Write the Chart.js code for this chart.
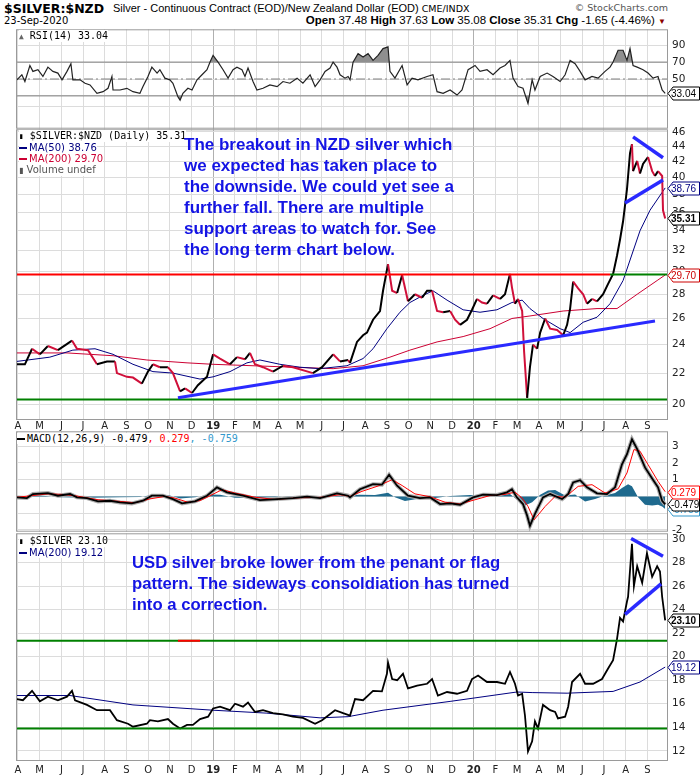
<!doctype html>
<html>
<head>
<meta charset="utf-8">
<title>$SILVER:$NZD</title>
<script src="https://cdn.jsdelivr.net/npm/chart.js@4.4.1/dist/chart.umd.min.js"></script>
<style>
  body { margin: 0; background: #fff; }
  #page { position: relative; width: 700px; height: 780px; overflow: hidden; font-family: "Liberation Sans", Arial, sans-serif; color: #000; }
  #page canvas { position: absolute; left: 0; }
  .abs { position: absolute; white-space: nowrap; }
  .note { position: absolute; white-space: nowrap; color: #1414e4; font-weight: bold; }
  .leg { position: absolute; font-family: "DejaVu Sans", sans-serif; font-size: 10px; line-height: 11px; }
  .leg div { background: #fff; width: max-content; }
  .mono { font-family: "DejaVu Sans Mono", monospace; }
  .dash { display: inline-block; width: 8px; height: 2px; vertical-align: middle; margin-right: 2px; }
</style>
</head>
<body>
<div id="page">
  <div class="abs" style="left:4px;top:1px;font-family:'DejaVu Sans';font-weight:bold;font-size:12.5px">$SILVER:$NZD</div>
  <div class="abs" style="left:113px;top:2px;font-size:11px">Silver - Continuous Contract (EOD)/New Zealand Dollar (EOD) <span style="font-family:'DejaVu Sans';font-size:9.5px">CME/INDX</span></div>
  <div class="abs" style="right:32px;top:2px;font-family:'DejaVu Sans';font-size:9.5px;color:#555">© StockCharts.com</div>
  <div class="abs" style="left:4px;top:15px;font-family:'DejaVu Sans';font-size:10px">23-Sep-2020</div>
  <div class="abs" style="right:34px;top:14px;font-size:11.5px"><b>Open</b> 37.48 <b>High</b> 37.63 <b>Low</b> 35.08 <b>Close</b> 35.31 <b>Chg</b> -1.65 (-4.46%) <span style="color:#8b0000;font-size:8px">▼</span></div>

  <canvas id="rsi" width="700" height="120" style="top:19px"></canvas>
  <canvas id="main" width="700" height="313" style="top:119px"></canvas>
  <canvas id="macd" width="700" height="121" style="top:421px"></canvas>
  <canvas id="usd" width="700" height="256" style="top:523px"></canvas>

  <div class="leg" style="left:19px;top:30px">
    <div class="mono"><span style="color:#666;font-size:8px">▲</span> RSI(14) 33.04</div>
  </div>
  <div class="leg" style="left:19px;top:130px">
    <div class="mono"><span style="font-size:8px">▮</span> $SILVER:$NZD (Daily) 35.31</div>
    <div style="color:#000080"><span class="dash" style="background:#000080"></span>MA(50) 38.76</div>
    <div style="color:#cc0033"><span class="dash" style="background:#cc0033"></span>MA(200) 29.70</div>
    <div style="color:#555"><span style="font-size:8px">▮</span> Volume undef</div>
  </div>
  <div class="leg" style="left:17px;top:433px">
    <div class="mono"><span class="dash" style="background:#000"></span>MACD(12,26,9) -0.479<span style="color:#ff0000">, 0.279</span><span style="color:#3399cc">, -0.759</span></div>
  </div>
  <div class="leg" style="left:19px;top:535px">
    <div class="mono"><span style="font-size:8px">▮</span> $SILVER 23.10</div>
    <div style="color:#000080"><span class="dash" style="background:#000080"></span>MA(200) 19.12</div>
  </div>

  <div class="note" style="left:184px;top:134px;font-size:17px;line-height:21px">The breakout in NZD silver which<br>we expected has taken place to<br>the downside. We could yet see a<br>further fall. There are multiple<br>support areas to watch for. See<br>the long term chart below.</div>
  <div class="note" style="left:132px;top:552px;font-size:16.7px;line-height:21px">USD silver broke lower from the penant or flag<br>pattern. The sideways consoldiation has turned<br>into a correction.</div>
</div>
<script>
  // months since Apr 2018 (0 = Apr 2018 ... 29 = Sep 2020)
  const monthLabels = ['A','M','J','J','A','S','O','N','D','19','F','M','A','M','J','J','A','S','O','N','D','20','F','M','A','M','J','J','A','S'];
  const yearTicks = [9, 21];
  const X_MIN = -0.09, X_MAX = 29.95;

  // RSI(14)
  const rsiT = [-0.05,0.18,0.32,0.55,0.69,0.92,1.15,1.38,1.61,1.84,
    2.03,2.26,2.44,2.53,2.86,3.09,3.32,3.64,3.92,4.15,
    4.33,4.38,4.70,5.02,5.30,5.62,5.76,5.99,6.17,6.41,
    6.54,6.77,7.00,7.14,7.37,7.47,7.60,7.83,8.02,8.25,
    8.48,8.71,8.85,8.99,9.22,9.45,9.68,9.91,10.09,10.32,
    10.46,10.60,10.83,11.01,11.29,11.61,11.94,12.21,12.53,12.86,
    13.13,13.46,13.69,13.92,14.15,14.38,14.52,14.70,14.84,15.07,
    15.21,15.30,15.44,15.67,15.90,16.13,16.36,16.59,16.82,17.05,
    17.14,17.37,17.70,17.93,18.16,18.43,18.85,19.12,19.31,19.59,
    19.91,20.23,20.46,20.74,21.06,21.29,21.61,21.89,22.21,22.44,
    22.67,22.81,23.04,23.27,23.50,23.69,23.82,24.06,24.38,24.65,
    24.98,25.21,25.44,25.67,25.90,26.13,26.45,26.73,27.05,27.28,
    27.42,27.65,27.88,28.06,28.20,28.34,28.53,28.80,29.03,29.26,
    29.49,29.68,29.82];
  const rsiV = [49,55,47,66,59,61,53,64,59,57,
    49,59,68,49,49,45,43,33,35,39,
    53,37,37,39,35,33,41,53,64,57,
    61,51,49,45,29,25,33,39,37,49,
    55,61,70,78,70,61,51,61,64,61,
    53,63,47,37,39,43,41,47,45,51,
    45,55,41,49,59,63,70,64,55,51,
    53,49,70,80,76,80,72,78,86,88,
    59,51,66,43,51,49,53,55,35,33,
    37,31,37,61,66,59,61,55,63,66,
    72,51,41,39,21,49,37,53,57,53,
    47,55,72,68,59,49,53,51,59,64,
    70,84,84,72,86,66,64,61,57,51,
    53,37,33.04];
  const rsiLevels = [70, 50, 30];
  const rsiTicks = [17, 30, 50, 70, 90];
  const rsiLabelled = [50, 70, 90, 30];

  // $SILVER:$NZD closes, MA(50), MA(200)
  const nzdT = [-0.05,0.32,0.65,1.01,1.38,1.84,2.49,2.72,3.23,3.64,
    4.10,4.47,4.56,5.02,5.30,5.71,5.99,6.22,6.54,6.91,
    7.14,7.47,7.70,8.02,8.29,8.71,8.99,9.31,9.77,10.09,
    10.46,10.69,10.92,11.29,11.75,12.21,12.67,13.59,14.01,14.52,
    14.84,15.21,15.30,15.62,15.90,16.08,16.36,16.68,16.82,17.05,
    17.24,17.47,17.70,17.97,18.29,18.62,18.85,19.08,19.31,19.59,
    19.91,20.14,20.37,20.69,20.92,21.15,21.38,21.61,21.89,22.21,
    22.44,22.67,22.76,22.90,23.04,23.23,23.32,23.46,23.59,23.73,
    23.92,24.06,24.29,24.52,24.84,25.12,25.30,25.44,25.58,25.81,
    26.04,26.22,26.45,26.68,26.96,27.19,27.42,27.60,27.74,27.88,
    28.06,28.20,28.29,28.34,28.53,28.66,28.80,29.03,29.22,29.35,
    29.49,29.68,29.72,29.82];
  const nzdClose = [22.6,22.6,23.7,23.3,23.9,23.6,24.3,23.7,23.6,22.6,
    22.8,22.8,22.0,21.75,21.7,21.3,22.1,22.6,22.4,22.4,
    22.0,20.8,21.0,20.7,21.2,21.75,23.3,23.0,22.6,23.1,
    22.95,23.4,22.6,22.4,22.1,22.5,22.4,22.0,22.4,23.3,
    22.8,22.9,22.7,24.2,24.7,24.9,25.9,26.6,28.3,30.7,
    28.3,28.1,29.7,27.4,28.0,27.7,28.3,28.3,26.6,26.5,
    26.6,25.9,25.5,25.9,26.7,27.6,27.3,27.2,27.9,27.6,
    28.0,29.8,28.6,27.2,27.6,26.6,23.5,20.4,22.4,24.0,
    23.7,24.9,26.0,25.2,25.1,24.7,25.5,26.8,29.1,28.5,
    28.0,27.2,27.6,27.4,28.0,28.9,29.8,31.5,33.1,35.0,
    38.6,43.1,44.3,40.8,42.1,40.5,41.7,42.6,40.8,40.2,
    40.8,40.2,36.2,35.31];
  const nzdMa50T = [-0.05,1.47,2.53,3.55,4.38,5.30,6.22,7.14,8.39,8.99,
    9.77,10.55,11.15,12.07,12.99,13.92,15.16,15.90,16.36,17.00,
    17.60,18.06,18.66,19.12,19.77,20.51,21.29,22.07,22.76,23.23,
    23.59,24.19,24.98,25.44,26.04,26.68,27.28,27.88,28.66,29.12,29.82];
  const nzdMa50 = [22.8,23.1,23.6,23.7,23.3,22.6,22.1,22.0,21.6,21.75,
    22.1,22.7,22.9,22.6,22.4,22.3,22.5,23.0,23.7,25.2,
    26.5,27.3,27.9,28.3,27.5,26.7,26.5,26.7,27.3,27.5,
    26.8,26.0,25.2,24.9,25.7,26.1,27.2,29.2,34.0,36.2,38.76];
  const nzdMa200T = [-0.05,2.26,4.38,5.94,7.79,8.99,10.83,12.67,14.52,15.90,17.14,18.06,
    19.31,20.51,21.75,22.76,23.59,25.12,26.68,27.60,28.53,29.45,29.82];
  const nzdMa200 = [23.4,23.4,23.2,22.9,22.7,22.6,22.5,22.4,22.3,22.5,23.1,23.6,
    24.2,24.6,25.2,26.0,26.2,26.6,26.8,26.8,28.0,29.2,29.70];
  const nzdResist = 29.75, nzdResistEndT = 27.28, nzdSupport = 20.3;
  const nzdTrendT = [7.37, 29.35], nzdTrendV = [20.4, 25.8];
  const nzdFlagTopT = [28.34, 29.72], nzdFlagTopV = [45.3, 42.5];
  const nzdFlagLowT = [27.97, 29.72], nzdFlagLowV = [37.0, 39.7];
  const nzdTicks = [20,22,24,26,28,30,32,34,36,38,40,42,44,46];

  // MACD(12,26,9)
  const macdT = [-0.05,0.41,0.69,1.38,1.84,2.40,2.72,3.18,3.69,4.24,
    4.70,5.25,5.76,6.17,6.68,7.14,7.56,8.16,8.71,9.17,
    9.63,10.37,11.15,11.94,12.67,13.32,13.92,14.70,15.21,15.30,
    15.76,16.36,16.77,17.10,17.47,17.97,18.52,18.99,19.45,19.91,
    20.37,20.97,21.43,22.07,22.53,22.76,22.99,23.27,23.46,23.59,
    23.82,24.19,24.52,25.07,25.35,25.58,25.90,26.22,26.68,27.14,
    27.51,27.83,28.06,28.29,28.53,28.89,29.22,29.49,29.68,29.82];
  const macdV = [-0.06,-0.1,0.14,0.2,0.04,0.14,-0.06,-0.1,-0.3,-0.26,
    -0.36,-0.42,-0.26,0.04,0.04,-0.16,-0.42,-0.3,0.04,0.54,
    0.24,0.04,-0.22,-0.16,-0.1,-0.02,-0.1,0.18,0.04,-0.06,
    0.43,0.73,0.7,1.29,0.64,0.04,-0.1,-0.06,-0.46,-0.42,
    -0.5,-0.06,0.1,0.08,0.24,0.43,-0.06,-0.46,-1.15,-1.75,
    -1.05,-0.06,0.14,-0.16,0.14,0.83,0.97,0.54,0.18,0.14,
    0.54,1.92,2.52,3.41,2.82,1.73,1.07,0.54,-0.26,-0.479];
  const sigT = [-0.05,0.69,1.38,2.03,2.72,3.69,4.70,5.39,6.08,6.77,
    7.23,7.83,8.39,8.94,9.40,10.00,10.92,11.84,12.99,13.92,
    14.84,15.30,15.85,16.59,17.24,17.70,18.29,18.99,19.68,20.37,
    21.06,21.75,22.44,22.90,23.23,23.50,23.78,24.29,24.75,25.21,
    25.81,26.45,27.05,27.65,28.06,28.38,28.66,29.03,29.49,29.82];
  const sigV = [-0.05,0.05,0.15,0.12,0.02,-0.2,-0.3,-0.38,-0.15,0.0,
    -0.1,-0.35,-0.25,0.1,0.4,0.2,-0.05,-0.18,-0.08,-0.06,
    0.1,0.0,0.3,0.62,1.0,0.65,0.15,-0.02,-0.35,-0.45,
    -0.2,0.05,0.12,0.25,-0.1,-0.6,-1.4,-0.6,0.0,-0.05,
    0.6,0.7,0.2,0.45,1.4,2.8,2.7,1.9,0.9,0.279];
  const histT = [-0.05,1.01,1.93,3.32,4.70,5.62,6.31,7.00,7.47,8.16,
    8.85,9.31,10.00,11.15,12.53,13.92,15.07,15.76,16.45,17.05,
    17.37,17.83,18.52,19.22,19.91,20.83,21.29,21.98,22.67,22.90,
    23.36,23.69,24.06,24.42,24.75,25.21,25.67,26.13,26.59,27.05,
    27.51,27.83,28.11,28.29,28.57,28.89,29.22,29.49,29.68,29.82];
  const histV = [0.0,0.06,-0.05,-0.08,-0.05,-0.04,0.12,0.05,-0.12,-0.05,
    0.12,0.1,-0.08,-0.1,0.02,-0.03,0.05,0.1,0.08,0.22,
    -0.05,-0.28,-0.12,-0.1,0.02,0.08,0.05,0.02,0.15,-0.1,
    -0.55,-0.35,0.1,0.35,0.38,0.05,0.12,-0.3,-0.15,0.05,
    0.2,0.5,0.72,0.6,-0.05,-0.5,-0.55,-0.5,-0.6,-0.759];
  const macdTicks = [-2,-1,0,1,2,3];

  // $SILVER (USD) closes and MA(200)
  const usdT = [-0.05,0.23,0.65,1.01,1.38,1.84,2.26,2.49,2.63,3.18,
    3.64,4.24,4.56,5.07,5.30,5.94,6.08,6.45,6.91,7.14,
    7.47,7.79,8.06,8.39,8.76,8.99,9.31,9.77,10.00,10.37,
    10.60,10.92,11.29,11.75,12.21,12.67,13.13,13.69,14.01,14.61,
    14.98,15.30,15.53,15.90,16.36,16.77,17.00,17.05,17.24,17.47,
    17.74,17.97,18.39,18.85,19.08,19.35,19.77,20.23,20.69,20.92,
    21.20,21.61,22.07,22.44,22.67,22.90,23.04,23.23,23.36,23.50,
    23.69,23.82,23.96,24.19,24.52,24.75,24.88,25.21,25.35,25.53,
    25.90,26.13,26.50,26.91,27.19,27.42,27.60,27.74,27.88,28.06,
    28.11,28.29,28.38,28.53,28.76,28.98,29.22,29.45,29.58,29.68,
    29.82];
  const usdClose = [16.4,16.3,17.1,16.2,16.6,16.3,16.6,17.1,16.3,15.9,
    15.45,15.45,14.6,14.3,14.05,14.3,14.6,14.5,14.7,14.3,
    13.9,14.2,14.2,14.7,14.9,15.6,15.75,15.45,16.0,15.75,
    16.1,15.3,15.45,15.2,15.1,14.9,14.8,14.3,14.6,15.45,
    15.2,15.0,16.4,16.3,17.1,17.05,18.55,19.5,18.1,18.0,
    18.55,17.3,17.55,17.7,18.1,16.7,17.0,16.85,17.1,18.1,
    18.4,17.85,17.85,17.7,18.7,17.7,16.7,16.85,15.0,11.95,
    12.8,14.5,13.9,15.9,15.45,15.3,14.75,14.9,15.75,17.85,
    18.55,17.7,17.7,18.1,19.0,19.7,21.5,23.3,23.0,24.7,
    25.1,29.6,26.0,27.7,26.3,28.8,26.8,27.7,27.25,25.1,
    23.1];
  const usdMaT = [-0.05,2.40,5.30,8.99,11.47,13.92,15.21,16.82,19.91,22.99,23.69,25.30,27.42,28.66,29.82];
  const usdMa = [16.7,16.7,15.9,15.45,15.2,14.8,14.9,15.45,16.2,17.0,16.95,16.9,17.05,17.85,19.12];
  const usdUpperLevel = 21.35, usdLowerLevel = 13.9;
  const usdRedMarkT = [7.37, 8.39];
  const usdFlagTopT = [28.25, 29.72], usdFlagTopV = [30.05, 28.55];
  const usdFlagLowT = [27.97, 29.63], usdFlagLowV = [23.6, 26.2];
  const usdTicks = [12,14,16,18,20,22,24,26,28,30];

  function pts(t, v) { return t.map((x, i) => ({ x: x, y: v[i] })); }
  function flat(v, t0, t1) { return [{ x: t0, y: v }, { x: t1, y: v }]; }
  function line(data, color, width, extra) {
    return Object.assign({ data: data, borderColor: color, borderWidth: width, pointRadius: 0, fill: false, tension: 0 }, extra || {});
  }

  // panel frame and value tags on the right
  const frameAndTags = {
    id: 'tags',
    afterDraw(chart, args, opts) {
      const ctx = chart.ctx, a = chart.chartArea, ys = chart.scales.y;
      ctx.save();
      ctx.strokeStyle = '#9a9a9a';
      ctx.lineWidth = 1;
      ctx.strokeRect(a.left + 0.5, a.top + 0.5, a.right - a.left - 1, a.bottom - a.top - 1);
      (opts.items || []).forEach(b => {
        const y = Math.round(ys.getPixelForValue(b.value)) + 0.5;
        const x0 = a.right;
        ctx.beginPath();
        ctx.moveTo(x0, y);
        ctx.lineTo(x0 + 5, y - 6.5);
        ctx.lineTo(699.5, y - 6.5);
        ctx.lineTo(699.5, y + 6.5);
        ctx.lineTo(x0 + 5, y + 6.5);
        ctx.closePath();
        ctx.fillStyle = '#fff';
        ctx.fill();
        ctx.strokeStyle = b.color;
        ctx.stroke();
        ctx.fillStyle = b.color;
        ctx.font = (b.bold ? 'bold ' : '') + '10px "Liberation Sans"';
        ctx.textBaseline = 'middle';
        ctx.fillText(b.text, x0 + 3, y + 0.5);
      });
      ctx.restore();
    }
  };

  function xScale(showLabels, pad) {
    return {
      type: 'linear', min: X_MIN, max: X_MAX,
      afterBuildTicks: s => { s.ticks = monthLabels.map((_, i) => ({ value: i })); },
      afterFit: s => { if (!showLabels) s.height = 0; },
      grid: { color: c => yearTicks.includes(c.tick && c.tick.value) ? '#b0b0b0' : '#dcdcdc', drawTicks: false },
      border: { display: false },
      ticks: {
        display: showLabels, autoSkip: false, maxRotation: 0, padding: pad || 0, color: '#222',
        font: c => ({ family: 'DejaVu Sans', size: 10, weight: (c.tick && yearTicks.includes(c.tick.value)) ? 'bold' : 'normal' }),
        callback: v => monthLabels[v]
      }
    };
  }

  function yScale(o) {
    return {
      type: o.type || 'linear', position: 'right', min: o.min, max: o.max,
      afterBuildTicks: s => { s.ticks = o.ticks.map(v => ({ value: v })); },
      afterFit: s => { s.width = 32; },
      grid: { color: '#dcdcdc', drawTicks: false },
      border: { display: false },
      ticks: { color: '#222', padding: 4, font: { family: 'DejaVu Sans', size: 10.5 },
        callback: v => (!o.labelled || o.labelled.includes(v)) ? v : '' }
    };
  }

  function panel(id, datasets, yOpts, showX, xPad, tags, padBottom) {
    return new Chart(document.getElementById(id), {
      type: 'line',
      data: { datasets: datasets },
      options: {
        responsive: false, animation: false, events: [],
        layout: { padding: { left: 16, right: 0, top: 10, bottom: padBottom } },
        plugins: { legend: { display: false }, tooltip: { enabled: false }, tags: { items: tags } },
        scales: { x: xScale(showX, xPad), y: yScale(yOpts) }
      },
      plugins: [frameAndTags]
    });
  }

  // RSI panel
  panel('rsi', [
    line(pts(rsiT, rsiV), '#222', 1.2, { fill: { target: { value: 70 }, above: '#8f8f8f', below: 'rgba(0,0,0,0)' } }),
    line(pts(rsiT, rsiV), 'rgba(0,0,0,0)', 0, { fill: { target: { value: 30 }, above: 'rgba(0,0,0,0)', below: '#8f8f8f' } }),
    line(flat(rsiLevels[0], X_MIN, X_MAX), '#808080', 1),
    line(flat(rsiLevels[1], X_MIN, X_MAX), '#808080', 1, { borderDash: [9, 3, 2, 3] }),
    line(flat(rsiLevels[2], X_MIN, X_MAX), '#808080', 1)
  ], { min: -8.8, max: 108.8, ticks: rsiTicks, labelled: rsiLabelled }, false, 0,
    [{ value: 33.04, text: '33.04', color: '#000' }], 10);

  // NZD price panel
  const downRed = '#d0103a';
  panel('main', [
    line(pts(nzdFlagTopT, nzdFlagTopV), '#2a2aff', 3.5),
    line(pts(nzdFlagLowT, nzdFlagLowV), '#2a2aff', 3.5),
    line(pts(nzdTrendT, nzdTrendV), '#2a2aff', 3),
    line(flat(nzdResist, X_MIN, nzdResistEndT), '#ff0000', 2),
    line(flat(nzdResist, nzdResistEndT, X_MAX), '#008000', 2),
    line(flat(nzdSupport, X_MIN, X_MAX), '#008000', 2),
    line(pts(nzdT, nzdClose), '#000', 2, { segment: { borderColor: c => c.p1.parsed.y < c.p0.parsed.y ? downRed : '#000' } }),
    line(pts(nzdMa50T, nzdMa50), '#000080', 1),
    line(pts(nzdMa200T, nzdMa200), '#cc0033', 1)
  ], { type: 'logarithmic', min: 19.06, max: 46.37, ticks: nzdTicks }, true, 0,
    [{ value: 38.76, text: '38.76', color: '#000080' },
     { value: 35.31, text: '35.31', color: '#000', bold: true },
     { value: 29.70, text: '29.70', color: '#cc0000' }], 0);

  // MACD panel
  panel('macd', [
    line(pts(macdT, macdV), '#000', 1.8),
    line(pts(sigT, sigV), '#ff0000', 1),
    line(pts(macdT, macdV), '#ababab', 4),
    line(pts(histT, histV), 'rgba(0,0,0,0)', 0, { fill: 'origin', backgroundColor: '#1f6a8e' })
  ], { min: -2.11, max: 3.89, ticks: macdTicks }, false, 0,
    [{ value: -0.759, text: '-0.759', color: '#3399cc' },
     { value: -0.479, text: '-0.479', color: '#000' },
     { value: 0.279, text: '0.279', color: '#ff0000' }], 10);

  // USD silver panel
  panel('usd', [
    line(pts(usdFlagTopT, usdFlagTopV), '#2a2aff', 3.5),
    line(pts(usdFlagLowT, usdFlagLowV), '#2a2aff', 3.5),
    line(flat(usdUpperLevel, usdRedMarkT[0], usdRedMarkT[1]), '#ff0000', 2),
    line(flat(usdUpperLevel, X_MIN, X_MAX), '#008000', 2),
    line(flat(usdLowerLevel, X_MIN, X_MAX), '#008000', 2),
    line(pts(usdT, usdClose), '#000', 1.8),
    line(pts(usdMaT, usdMa), '#000080', 1)
  ], { min: 11.13, max: 30.5, ticks: usdTicks }, true, 3,
    [{ value: 23.10, text: '23.10', color: '#000', bold: true },
     { value: 19.12, text: '19.12', color: '#000080' }], 0);
</script>
</body>
</html>
